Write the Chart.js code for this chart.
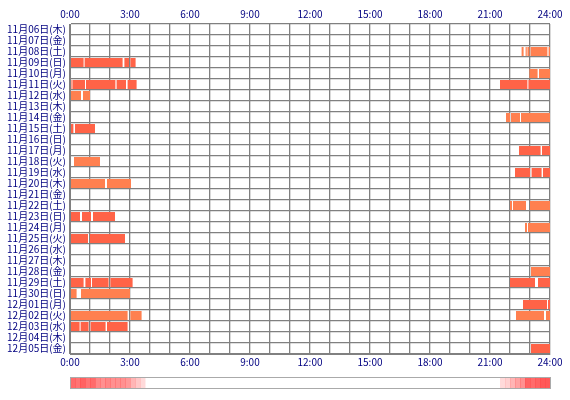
<!DOCTYPE html>
<html><head><meta charset="utf-8">
<script src="https://cdn.jsdelivr.net/npm/chart.js@4"></script>
<style>html,body{margin:0;padding:0;background:#fff}</style>
</head><body><canvas id="c" width="570" height="400"></canvas>
<script>
const days = ["11月06日(木)","11月07日(金)","11月08日(土)","11月09日(日)","11月10日(月)","11月11日(火)","11月12日(水)","11月13日(木)","11月14日(金)","11月15日(土)","11月16日(日)","11月17日(月)","11月18日(火)","11月19日(水)","11月20日(木)","11月21日(金)","11月22日(土)","11月23日(日)","11月24日(月)","11月25日(火)","11月26日(水)","11月27日(木)","11月28日(金)","11月29日(土)","11月30日(日)","12月01日(月)","12月02日(火)","12月03日(水)","12月04日(木)","12月05日(金)"];
const hourTicks = [0,3,6,9,12,15,18,21,24];
// [day, start hour, end hour]
const redSegments = [
 ["11月09日(日)",0.05,0.68],["11月09日(日)",0.73,2.63],["11月09日(日)",2.72,2.95],["11月09日(日)",3.02,3.28],
 ["11月11日(火)",0.05,0.08],["11月11日(火)",0.12,0.75],["11月11日(火)",0.8,2.27],["11月11日(火)",2.33,2.8],["11月11日(火)",2.88,3.33],
 ["11月11日(火)",21.5,22.87],["11月11日(火)",22.92,24],
 ["11月15日(土)",0.05,0.17],["11月15日(土)",0.25,1.25],
 ["11月17日(月)",22.45,23.53],["11月17日(月)",23.6,24],
 ["11月19日(水)",22.25,23.0],["11月19日(水)",23.08,23.58],["11月19日(水)",23.65,24],
 ["11月23日(日)",0.05,0.5],["11月23日(日)",0.6,1.05],["11月23日(日)",1.15,2.25],
 ["11月25日(火)",0.05,0.9],["11月25日(火)",1.0,2.75],
 ["11月29日(土)",0.05,0.68],["11月29日(土)",0.77,1.05],["11月29日(土)",1.1,1.93],["11月29日(土)",2.02,3.13],
 ["11月29日(土)",22.0,23.25],["11月29日(土)",23.4,24],
 ["12月01日(月)",22.65,23.85],["12月01日(月)",23.9,24],
 ["12月03日(水)",0.05,0.48],["12月03日(水)",0.53,0.93],["12月03日(水)",1.03,1.78],["12月03日(水)",1.85,2.88],
 ["12月05日(金)",23.05,24]
];
const coralSegments = [
 ["11月08日(土)",22.58,22.68],["11月08日(土)",22.78,22.84],["11月08日(土)",22.87,22.97],["11月08日(土)",23.03,23.87],["11月08日(土)",23.93,24],
 ["11月10日(月)",22.97,23.38],["11月10日(月)",23.45,24],
 ["11月12日(水)",0.05,0.55],["11月12日(水)",0.65,1.0],
 ["11月14日(金)",21.8,22.0],["11月14日(金)",22.05,22.5],["11月14日(金)",22.55,24],
 ["11月18日(火)",0.2,1.5],
 ["11月20日(木)",0.05,1.75],["11月20日(木)",1.85,3.05],
 ["11月22日(土)",22.0,22.1],["11月22日(土)",22.15,22.8],["11月22日(土)",23.0,24],
 ["11月24日(月)",22.75,22.85],["11月24日(月)",22.9,24],
 ["11月28日(金)",23.05,24],
 ["11月30日(日)",0.05,0.33],["11月30日(日)",0.55,3.0],
 ["12月02日(火)",0.05,2.88],["12月02日(火)",3.02,3.58],["12月02日(火)",22.3,23.7],["12月02日(火)",23.8,24]
];
const toPts = a => a.map(s => ({y:s[0], x:[s[1],s[2]]}));
const allSeg = redSegments.concat(coralSegments);
const bins = [];
for (let i=0;i<96;i++){const a=i/4,b=a+0.25;let c=0;allSeg.forEach(s=>{if(s[1]<b&&s[2]>a)c++;});bins.push(c);}
const maxBin = Math.max(...bins);
const stripPlugin = {id:'strip', afterDraw(ch){
  const ctx=ch.ctx, xs=ch.scales.x, y0=377, h=11;
  bins.forEach((c,i)=>{ if(!c) return;
    const x0=xs.getPixelForValue(i/4), x1=xs.getPixelForValue(i/4+0.25);
    ctx.fillStyle='rgba(255,70,70,'+(0.15+0.75*c/maxBin)+')'; ctx.fillRect(x0,y0,x1-x0+0.5,h);});
  ctx.strokeStyle='#aaa'; ctx.lineWidth=1;
  ctx.strokeRect(xs.left+0.5,y0+0.5,xs.right-xs.left,h);
}};
const fmt = v => hourTicks.includes(v) ? v+':00' : '';
const tickFont = {family:"'Noto Sans CJK JP', sans-serif", size:10};
new Chart(document.getElementById('c'), {
  type:'bar',
  data:{labels:days, datasets:[
    {data:toPts(redSegments), backgroundColor:'#ff6347', grouped:false, barPercentage:1, categoryPercentage:0.82},
    {data:toPts(coralSegments), backgroundColor:'#ff8050', grouped:false, barPercentage:1, categoryPercentage:0.82}
  ]},
  options:{indexAxis:'y', responsive:false, animation:false, maintainAspectRatio:false, devicePixelRatio:1,
    layout:{padding:{top:0,bottom:28,right:20,left:0}},
    plugins:{legend:{display:false}, tooltip:{enabled:false}},
    scales:{
      x:{type:'linear',min:0,max:24,position:'bottom',
        ticks:{stepSize:1,autoSkip:false,maxRotation:0,callback:fmt,color:'#000080',font:tickFont,padding:2},
        grid:{color:'#808080',lineWidth:1.3,drawTicks:false}, border:{color:'#808080'},
        afterFit(s){s.height=18;}},
      x2:{type:'linear',min:0,max:24,position:'top',
        ticks:{stepSize:1,autoSkip:false,maxRotation:0,callback:fmt,color:'#000080',font:tickFont,padding:4},
        grid:{display:false,drawTicks:false}, border:{display:false},
        afterFit(s){s.height=24;}},
      y:{type:'category',offset:true,
        ticks:{color:'#000080',font:tickFont,autoSkip:false,padding:4},
        grid:{color:'#808080',lineWidth:1.3,drawTicks:false,offset:true}, border:{color:'#808080'},
        afterFit(s){s.width=70;}}
    }},
  plugins:[stripPlugin]
});
</script></body></html>
